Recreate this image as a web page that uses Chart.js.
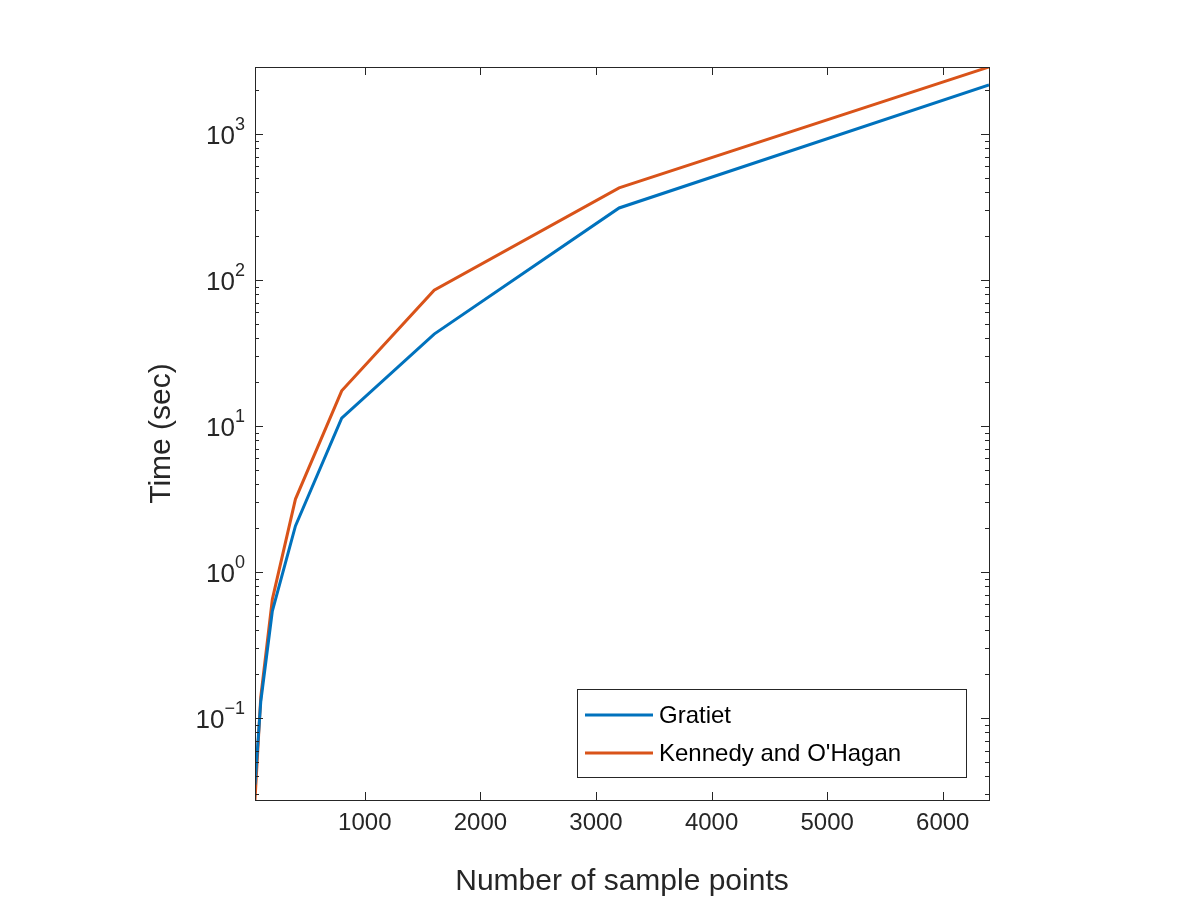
<!DOCTYPE html>
<html>
<head>
<meta charset="utf-8">
<script src="https://cdn.jsdelivr.net/npm/chart.js@4/dist/chart.umd.min.js"></script>
<style>
  html, body { margin: 0; padding: 0; background: #fff; }
  #wrap { width: 1200px; height: 900px; }
</style>
</head>
<body>
<div id="wrap"><canvas id="c" width="1200" height="900"></canvas></div>
<script>
// sample sizes and timings
const samplePoints = [50, 100, 200, 400, 800, 1600, 3200, 6400];
const gratiet = [0.035, 0.13, 0.54, 2.07, 11.3, 42.6, 311, 2165];
const kennedy = [0.0275, 0.14, 0.65, 3.16, 17.4, 85, 427, 2870];

const xTicks = [1000, 2000, 3000, 4000, 5000, 6000];
const yDecades = [-1, 0, 1, 2, 3];

const FONT = "'Liberation Sans', Arial, sans-serif";
const INK = '#262626';

// MATLAB-style box, inward ticks, superscript labels, titles, legend
const matlabAxes = {
    id: 'matlabAxes',
    afterDraw(chart) {
        const { ctx, chartArea: a, scales: { x, y } } = chart;
        ctx.save();
        ctx.strokeStyle = INK;
        ctx.lineWidth = 1;
        ctx.strokeRect(a.left + 0.5, a.top + 0.5, a.right - a.left, a.bottom - a.top);

        // x ticks, bottom and top
        ctx.beginPath();
        xTicks.forEach(v => {
            const px = Math.round(x.getPixelForValue(v)) + 0.5;
            ctx.moveTo(px, a.bottom); ctx.lineTo(px, a.bottom - 8);
            ctx.moveTo(px, a.top); ctx.lineTo(px, a.top + 8);
        });
        // y ticks: major and minor, both sides
        for (let e = -2; e <= 3; e++) {
            for (let m = 1; m <= 9; m++) {
                const v = m * Math.pow(10, e);
                if (v < y.min || v > y.max) continue;
                const py = Math.round(y.getPixelForValue(v)) + 0.5;
                const len = m === 1 ? 8 : 4;
                ctx.moveTo(a.left, py); ctx.lineTo(a.left + len, py);
                ctx.moveTo(a.right, py); ctx.lineTo(a.right - len, py);
            }
        }
        ctx.stroke();

        // tick labels
        ctx.fillStyle = INK;
        ctx.font = '24px ' + FONT;
        ctx.textAlign = 'center';
        ctx.textBaseline = 'top';
        xTicks.forEach(v => ctx.fillText(String(v), x.getPixelForValue(v), a.bottom + 11));

        yDecades.forEach(e => {
            const py = y.getPixelForValue(Math.pow(10, e));
            const exp = String(e).replace('-', '\u2212');
            ctx.font = '18px ' + FONT;
            const ew = ctx.measureText(exp).width;
            ctx.textAlign = 'left';
            ctx.textBaseline = 'alphabetic';
            const ex = a.left - 10 - ew;
            ctx.fillText(exp, ex, py - 4);
            ctx.font = '26px ' + FONT;
            ctx.textAlign = 'right';
            ctx.fillText('10', ex, py + 10);
        });

        // axis titles
        ctx.font = '30px ' + FONT;
        ctx.textAlign = 'center';
        ctx.textBaseline = 'alphabetic';
        ctx.fillText('Number of sample points', (a.left + a.right) / 2, 890);
        ctx.save();
        ctx.translate(170, (a.top + a.bottom) / 2);
        ctx.rotate(-Math.PI / 2);
        ctx.fillText('Time (sec)', 0, 0);
        ctx.restore();

        // legend box
        const lx = 577, ly = 689, lw = 389, lh = 88;
        ctx.fillStyle = '#fff';
        ctx.fillRect(lx, ly, lw, lh);
        ctx.lineWidth = 1;
        ctx.strokeStyle = INK;
        ctx.strokeRect(lx + 0.5, ly + 0.5, lw, lh);
        ctx.font = '24px ' + FONT;
        ctx.textAlign = 'left';
        ctx.textBaseline = 'middle';
        chart.data.datasets.forEach((ds, i) => {
            const cy = ly + 26 + i * 38;
            ctx.strokeStyle = ds.borderColor;
            ctx.lineWidth = 3;
            ctx.beginPath();
            ctx.moveTo(lx + 8, cy); ctx.lineTo(lx + 76, cy);
            ctx.stroke();
            ctx.fillStyle = '#000';
            ctx.fillText(ds.label, lx + 82, cy + 1);
        });
        ctx.restore();
    }
};

new Chart(document.getElementById('c'), {
    type: 'line',
    data: {
        datasets: [
            {
                label: 'Gratiet',
                data: samplePoints.map((v, i) => ({ x: v, y: gratiet[i] })),
                borderColor: '#0072BD',
                borderWidth: 3,
                pointRadius: 0,
                tension: 0
            },
            {
                label: "Kennedy and O'Hagan",
                data: samplePoints.map((v, i) => ({ x: v, y: kennedy[i] })),
                borderColor: '#D95319',
                borderWidth: 3,
                pointRadius: 0,
                tension: 0
            }
        ]
    },
    options: {
        responsive: false,
        animation: false,
        events: [],
        layout: { padding: { top: 67, right: 211, left: 0, bottom: 0 } },
        plugins: { legend: { display: false }, tooltip: { enabled: false } },
        scales: {
            x: {
                type: 'linear',
                min: 50,
                max: 6400,
                grid: { display: false },
                border: { display: false },
                ticks: { display: false },
                afterFit: (s) => { s.height = 100; }
            },
            y: {
                type: 'logarithmic',
                min: 0.0275,
                max: 2870,
                grid: { display: false },
                border: { display: false },
                ticks: { display: false },
                afterFit: (s) => { s.width = 255; }
            }
        }
    },
    plugins: [matlabAxes]
});
</script>
</body>
</html>
